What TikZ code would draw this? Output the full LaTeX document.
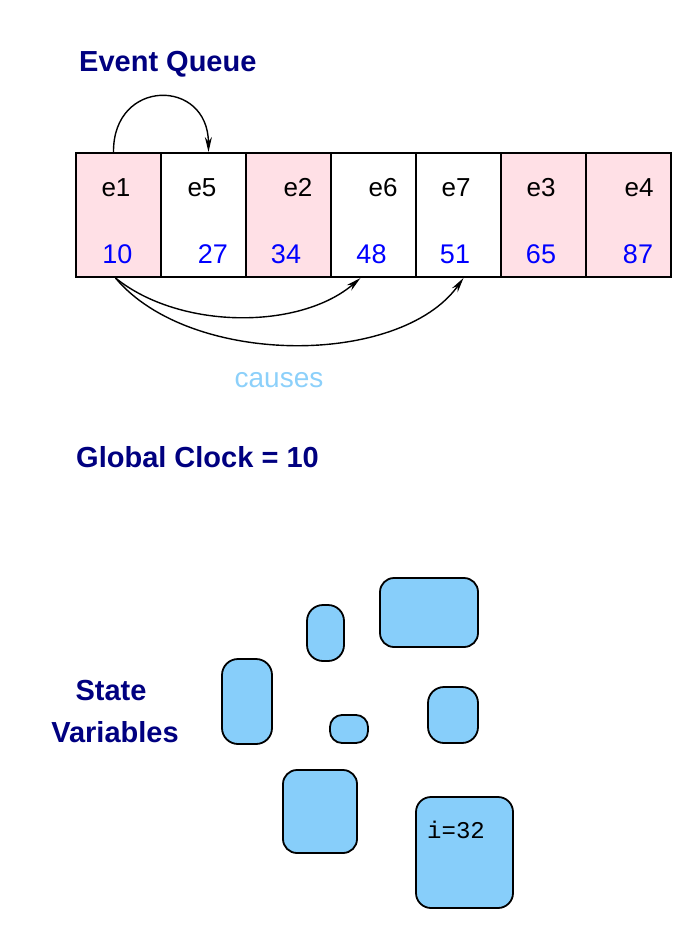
\documentclass[tikz,border=0pt]{standalone}
\usepackage{fontspec}
\setmainfont{Liberation Sans}
\setmonofont{Liberation Mono}
\usetikzlibrary{arrows.meta}

\definecolor{qpink}{RGB}{255,224,230}
\definecolor{varblue}{RGB}{135,206,250}
\definecolor{headnavy}{RGB}{0,0,128}
\definecolor{causeblue}{RGB}{140,208,250}

\begin{document}
\begin{tikzpicture}[x=1pt, y=-1pt, >={Stealth[length=15pt,width=7pt]},
  cell/.style={draw, line width=2pt, minimum width=85pt, minimum height=124pt, inner sep=0pt},
  evlabel/.style={font=\fontsize{26}{30}\selectfont, inner sep=0pt, anchor=base},
  tlabel/.style={font=\fontsize{27}{30}\selectfont, text=blue, inner sep=0pt, anchor=base},
  head/.style={font=\fontsize{29}{32}\selectfont\bfseries, text=headnavy, inner sep=0pt},
  blob/.style={draw, fill=varblue, line width=1.8pt, inner sep=0pt}]

\useasboundingbox (0,0) rectangle (685,947);

\node[head, anchor=base west] (evq) at (79,72) {Event Queue};

% the queue: cell, event name, time stamp
\foreach \i/\col/\ev/\ex/\tv/\tx in {1/qpink/e1/116/10/117.5, 2/white/e5/202/27/213,
    3/qpink/e2/298/34/286, 4/white/e6/383/48/371.5, 5/white/e7/456/51/455,
    6/qpink/e3/541/65/541, 7/qpink/e4/639/87/638}{
  \node[cell, fill=\col] (c\i) at ({76+85*(\i-0.5)},215) {};
  \node[evlabel] (e\i) at (\ex,196) {\ev};
  \node[tlabel] (t\i) at (\tx,263) {\tv};
}

\draw[line width=1.4pt, ->] ([xshift=-5pt]c1.north) .. controls (113,78) and (208,78) .. ([xshift=5pt]c2.north);

\draw[line width=1.4pt, ->] ([xshift=-3pt]c1.south) .. controls (180,330) and (300,330) .. ([xshift=-13pt]c4.south);
\draw[line width=1.4pt, ->] ([xshift=-3pt]c1.south) .. controls (190,367) and (400,367) .. ([xshift=5pt]c5.south);

\node[font=\fontsize{28}{32}\selectfont, text=causeblue, inner sep=0pt, anchor=base] (causes) at (279,387) {causes};

\node[head, anchor=base west] (clock) at (76,467) {Global Clock = 10};

\node[head, anchor=base] (state1) at (111,700) {State};
\node[head, anchor=base] (state2) at (115,742) {Variables};

% state variables
\node[blob, rounded corners=14pt, minimum width=98pt, minimum height=69pt] (v1) at (429,612.5) {};
\node[blob, rounded corners=16pt, minimum width=37pt, minimum height=56pt] (v2) at (325.5,633) {};
\node[blob, rounded corners=16pt, minimum width=50pt, minimum height=85pt] (v3) at (247,701.5) {};
\node[blob, rounded corners=12pt, minimum width=38pt, minimum height=28pt] (v4) at (349,729) {};
\node[blob, rounded corners=16pt, minimum width=50pt, minimum height=56pt] (v5) at (453,715) {};
\node[blob, rounded corners=14pt, minimum width=74pt, minimum height=83pt] (v6) at (320,811.5) {};
\node[blob, rounded corners=15pt, minimum width=97pt, minimum height=111pt] (v7) at (464.5,852.5) {};

\node[font=\ttfamily\fontsize{24}{28}\selectfont, inner sep=0pt, anchor=base west] (ival) at (427,838) {i=32};

\end{tikzpicture}
\end{document}
